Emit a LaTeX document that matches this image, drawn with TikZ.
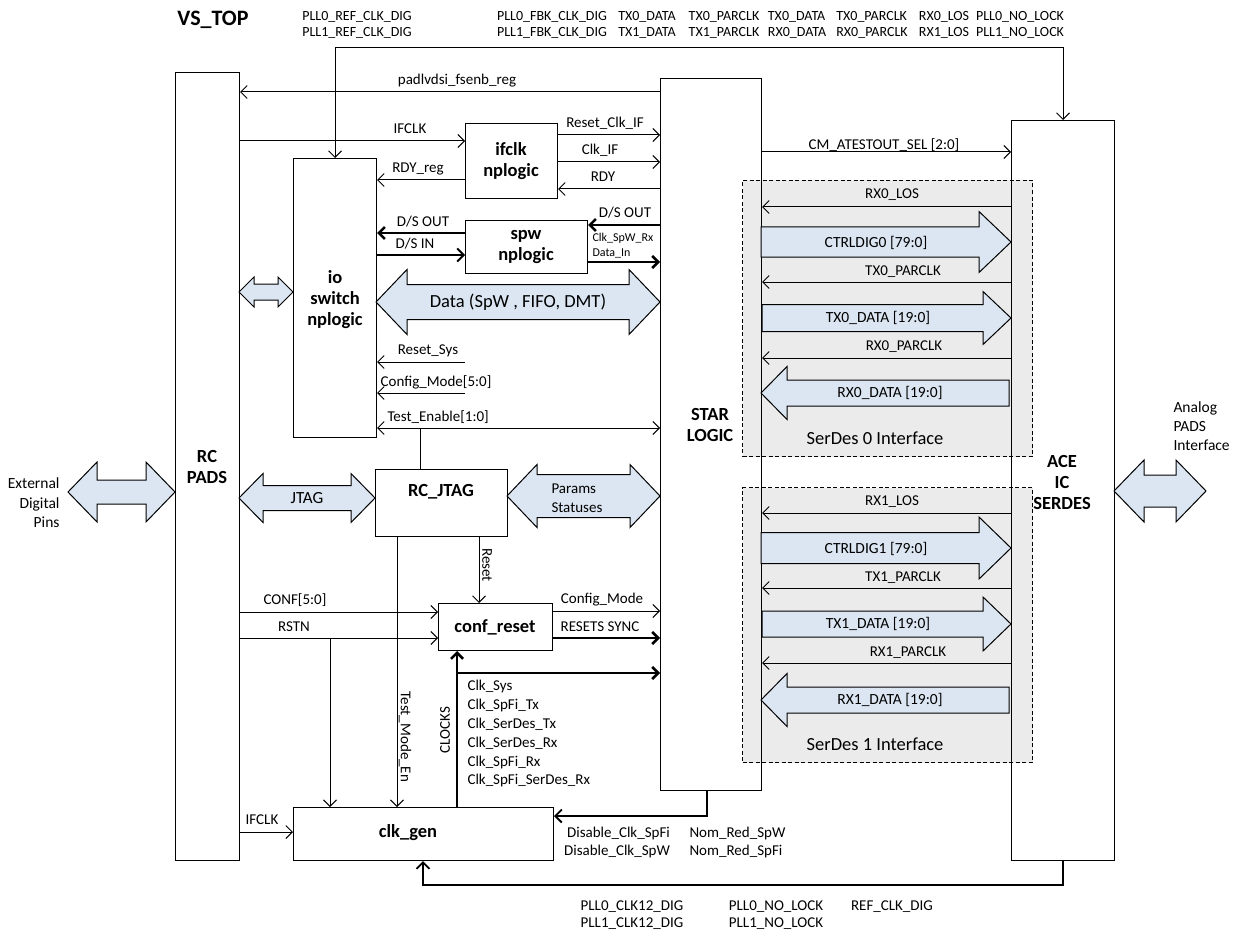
\documentclass[tikz,border=0pt]{standalone}
\usepackage{fontspec}
\setmainfont{Carlito}
\usetikzlibrary{arrows.meta}
\definecolor{blkfill}{HTML}{DCE6F2}
\definecolor{sdgray}{HTML}{EBEBEB}
\newcommand{\BlkR}[6]{\draw[blk] (#1,#3-#4) -- (#2-#6,#3-#4) -- (#2-#6,#3-#5) -- (#2,#3) -- (#2-#6,#3+#5) -- (#2-#6,#3+#4) -- (#1,#3+#4) -- cycle;}
\newcommand{\BlkL}[6]{\draw[blk] (#2,#3-#4) -- (#1+#6,#3-#4) -- (#1+#6,#3-#5) -- (#1,#3) -- (#1+#6,#3+#5) -- (#1+#6,#3+#4) -- (#2,#3+#4) -- cycle;}
\newcommand{\BlkD}[6]{\draw[blk] (#1,#3) -- (#1+#6,#3-#5) -- (#1+#6,#3-#4) -- (#2-#6,#3-#4) -- (#2-#6,#3-#5) -- (#2,#3) -- (#2-#6,#3+#5) -- (#2-#6,#3+#4) -- (#1+#6,#3+#4) -- (#1+#6,#3+#5) -- cycle;}
\begin{document}
\begin{tikzpicture}[x=1pt,y=-1pt,line width=1pt,
  lbl/.style={font=\fontsize{15}{18}\selectfont, inner sep=0},
  toplbl/.style={font=\fontsize{14}{16.5}\selectfont, inner sep=0, align=left},
  sml/.style={font=\fontsize{12}{14}\selectfont, inner sep=0},
  blktxt/.style={font=\fontsize{15.5}{19}\selectfont, inner sep=0},
  bold/.style={font=\bfseries\fontsize{18.5}{21}\selectfont, inner sep=0, align=center},
  box/.style={draw, line width=1pt, inner sep=0, anchor=north west},
  sdbox/.style={draw, dash pattern=on 4pt off 2.5pt, fill=sdgray, line width=1pt, inner sep=0, anchor=north west},
  arr/.style={-{Straight Barb[length=6.5pt,width=13pt]}, line width=1pt},
  arrb/.style={{Straight Barb[length=6.5pt,width=13pt]}-{Straight Barb[length=6.5pt,width=13pt]}, line width=1pt},
  tarr/.style={-{Straight Barb[length=6pt,width=12pt]}, line width=2.6pt},
  marr/.style={-{Straight Barb[length=6.5pt,width=13pt]}, line width=1.8pt},
  blk/.style={draw, fill=blkfill, line width=1pt, line join=miter},
]
\useasboundingbox (0,0) rectangle (1238,933);

% SerDes interface areas
\node[sdbox, minimum width=290pt, minimum height=276pt] (sd0) at (742,180) {};
\node[sdbox, minimum width=290pt, minimum height=275pt] (sd1) at (742,487) {};

% boxes
\node[box, minimum width=64pt, minimum height=788pt] (pads) at (175,72) {};
\node[box, minimum width=101pt, minimum height=712pt] (star) at (660,78) {};
\node[box, minimum width=103pt, minimum height=740pt] (ace) at (1011,120) {};
\node[box, minimum width=92pt, minimum height=75pt] (ifclk) at (465,123) {};
\node[box, minimum width=83pt, minimum height=279pt] (io) at (293,158) {};
\node[box, minimum width=122pt, minimum height=53pt] (spw) at (465,220) {};
\node[box, minimum width=132pt, minimum height=67pt] (jtag) at (375,469) {};
\node[box, minimum width=114pt, minimum height=47pt] (conf) at (438,603) {};
\node[box, minimum width=260pt, minimum height=53pt] (clk) at (293,807) {};

% box titles
\node[font=\bfseries\fontsize{22}{24}\selectfont, inner sep=0] (vstop) at (213,20) {VS\_TOP};
\node[bold] (padsT) at (207,467) {RC\\PADS};
\node[bold] (starT) at (710,425) {STAR\\LOGIC};
\node[bold] (aceT) at (1062,482) {ACE\\IC\\SERDES};
\node[bold] (ifclkT) at (511,161) {ifclk\\nplogic};
\node[bold] (ioT) at (335,300) {io\\switch\\nplogic};
\node[bold] (spwT) at (526,247) {spw\\nplogic};
\node[bold] (jtagT) at (441,492) {RC\_JTAG};
\node[bold] (confT) at (495,627) {conf\_reset};
\node[bold] (clkT) at (408,833) {clk\_gen};

% top signal labels
\node[toplbl] (t1) at (357,25) {PLL0\_REF\_CLK\_DIG\\PLL1\_REF\_CLK\_DIG};
\node[toplbl] (t2) at (552,25) {PLL0\_FBK\_CLK\_DIG\\PLL1\_FBK\_CLK\_DIG};
\node[toplbl] (t3) at (647,25) {TX0\_DATA\\TX1\_DATA};
\node[toplbl] (t4) at (724,25) {TX0\_PARCLK\\TX1\_PARCLK};
\node[toplbl] (t5) at (797,25) {TX0\_DATA\\RX0\_DATA};
\node[toplbl] (t6) at (872,25) {TX0\_PARCLK\\RX0\_PARCLK};
\node[toplbl] (t7) at (944,25) {RX0\_LOS\\RX1\_LOS};
\node[toplbl] (t8) at (1020,25) {PLL0\_NO\_LOCK\\PLL1\_NO\_LOCK};
\draw[arrb] (io.north) -- (io.north |- 0,48) -- (ace.north |- 0,48) -- (ace.north);

% padlvdsi
\draw[arr] (star.west |- 0,92) -- (pads.east |- 0,92);
\node[lbl] (padl) at (457,81) {padlvdsi\_fsenb\_reg};

% ifclk nplogic signals
\draw[arr] (pads.east |- 0,141) -- (ifclk.west |- 0,141);
\node[lbl] (ifclkl) at (410,129) {IFCLK};
\draw[arr] (ifclk.east |- 0,135) -- (star.west |- 0,135);
\node[lbl] (rcil) at (605,123) {Reset\_Clk\_IF};
\draw[arr] (ifclk.east |- 0,162) -- (star.west |- 0,162);
\node[lbl] (clkifl) at (600,150) {Clk\_IF};
\draw[arr] (star.west |- 0,189) -- (ifclk.east |- 0,189);
\node[lbl] (rdyl) at (603,177) {RDY};
\draw[arr] (ifclk.west |- 0,180) -- (io.east |- 0,180);
\node[lbl] (rdyrl) at (418,169) {RDY\_reg};

% spw nplogic signals
\draw[tarr] (star.west |- 0,225) -- (spw.east |- 0,225);
\node[lbl] (dso1) at (625,213) {D/S OUT};
\draw[tarr] (spw.west |- 0,233) -- (io.east |- 0,233);
\node[lbl] (dso2) at (423,222) {D/S OUT};
\draw[marr] (io.east |- 0,255) -- (spw.west |- 0,255);
\node[lbl] (dsin) at (415,244) {D/S IN};
\draw[tarr] (spw.east |- 0,262) -- (star.west |- 0,262);
\node[sml, anchor=west] (cswl) at (592,238) {Clk\_SpW\_Rx};
\node[sml, anchor=west] (dinl) at (592,253) {Data\_In};

% data bus
\BlkD{376}{660}{302}{17.5}{32.5}{31}
\node[font=\fontsize{18.5}{21}\selectfont, inner sep=0] (datal) at (518,302) {Data (SpW , FIFO, DMT)};
\BlkD{239}{293}{292}{8}{15}{15}

% io inputs
\coordinate (rsS) at (465,362);
\draw[arr] (rsS) -- (io.east |- rsS);
\node[lbl] (rsl) at (428,351) {Reset\_Sys};
\coordinate (cmS) at (465,393);
\draw[arr] (cmS) -- (io.east |- cmS);
\node[lbl] (cml) at (436,382) {Config\_Mode[5:0]};
\draw[arrb] (io.east |- 0,428) -- (star.west |- 0,428);
\node[lbl, anchor=west] (tel) at (387,417) {Test\_Enable[1:0]};
\draw (jtag.north -| 420,0) -- (420,428);

% JTAG area
\BlkD{239}{375}{498}{12.5}{24.5}{24}
\node[blktxt, font=\fontsize{17}{19}\selectfont] (jtagl) at (307,498) {JTAG};
\BlkD{68}{175}{492}{12}{30}{29}
\node[lbl, align=right, anchor=east, font=\fontsize{15.5}{19.5}\selectfont] (extl) at (60,503) {External\\Digital\\Pins};
\BlkD{507}{660}{496}{21.5}{31.5}{30}
\node[blktxt, align=left, anchor=west, font=\fontsize{15}{19}\selectfont] (parl) at (551,498) {Params\\Statuses};
\BlkD{1114}{1206}{491}{16}{31}{30}
\node[lbl, align=left, anchor=west, font=\fontsize{15.5}{19}\selectfont] (anl) at (1173,426) {Analog\\PADS\\Interface};

% reset and test mode
\draw[arr] (jtag.south -| 479,0) -- (conf.north -| 479,0);
\node[lbl, rotate=-90] (resetl) at (487,565) {Reset};
\draw[arr] (jtag.south -| 397,0) -- (clk.north -| 397,0);
\node[lbl, rotate=-90] (tmel) at (405,737) {Test\_Mode\_En};

% conf_reset
\draw[arr] (pads.east |- 0,612) -- (conf.west |- 0,612);
\node[lbl] (confl) at (295,600) {CONF[5:0]};
\draw[arr] (pads.east |- 0,638) -- (conf.west |- 0,638);
\node[lbl] (rstnl) at (294,627) {RSTN};
\draw[arr] (330,638) -- (clk.north -| 330,0);
\draw[arr] (conf.east |- 0,611) -- (star.west |- 0,611);
\node[lbl] (cmodel) at (602,600) {Config\_Mode};
\draw[tarr] (conf.east |- 0,638) -- (star.west |- 0,638);
\node[lbl] (rsyncl) at (600,627) {RESETS SYNC};

% clocks
\draw[tarr] (clk.north -| 457,0) -- (conf.south -| 457,0);
\draw[tarr] (457,673) -- (star.west |- 0,673);
\node[lbl, rotate=90] (clocksl) at (445,730) {CLOCKS};
\node[lbl, align=left, anchor=north west, font=\fontsize{15}{18.8}\selectfont] (clkl) at (467,680) {Clk\_Sys\\Clk\_SpFi\_Tx\\Clk\_SerDes\_Tx\\Clk\_SerDes\_Rx\\Clk\_SpFi\_Rx\\Clk\_SpFi\_SerDes\_Rx};

% clk_gen inputs
\draw[arr] (pads.east |- 0,832) -- (clk.west |- 0,832);
\node[lbl] (ifclk2l) at (262,820) {IFCLK};
\draw[marr] (star.south -| 707,0) |- (clk.east |- 0,816);
\node[lbl, align=right, font=\fontsize{15}{18}\selectfont] (disl) at (617,842) {Disable\_Clk\_SpFi\\Disable\_Clk\_SpW};
\node[lbl, align=left, anchor=west, font=\fontsize{15}{18}\selectfont] (noml) at (689,842) {Nom\_Red\_SpW\\Nom\_Red\_SpFi};
\draw[marr] (ace.south) |- (423,885) -- (clk.south -| 423,0);
\node[lbl, align=left, font=\fontsize{15}{17}\selectfont] (b1) at (632,915) {PLL0\_CLK12\_DIG\\PLL1\_CLK12\_DIG};
\node[lbl, align=left, font=\fontsize{15}{17}\selectfont] (b2) at (776,915) {PLL0\_NO\_LOCK\\PLL1\_NO\_LOCK};
\node[lbl] (b3) at (892,907) {REF\_CLK\_DIG};

% star to ace
\draw[arr] (star.east |- 0,152) -- (ace.west |- 0,152);
\node[lbl] (cml2) at (884,145) {CM\_ATESTOUT\_SEL [2:0]};

% SerDes 0
\draw[arr] (ace.west |- 0,207) -- (star.east |- 0,207);
\node[lbl] (rx0los) at (892,195) {RX0\_LOS};
\BlkR{761}{1011}{242}{15}{30.5}{32}
\node[blktxt] (ctrl0) at (876,243) {CTRLDIG0 [79:0]};
\draw[arr] (ace.west |- 0,282) -- (star.east |- 0,282);
\node[lbl] (tx0p) at (903,272) {TX0\_PARCLK};
\BlkR{762}{1011}{318}{13.5}{26.5}{28}
\node[blktxt] (tx0d) at (878,318) {TX0\_DATA [19:0]};
\draw[arr] (ace.west |- 0,358) -- (star.east |- 0,358);
\node[lbl] (rx0p) at (904,347) {RX0\_PARCLK};
\BlkL{761}{1009}{393}{13}{26.5}{26}
\node[blktxt] (rx0d) at (890,393) {RX0\_DATA [19:0]};
\node[font=\fontsize{18.5}{21}\selectfont, inner sep=0] (sd0l) at (875,438) {SerDes 0 Interface};

% SerDes 1
\draw[arr] (ace.west |- 0,513) -- (star.east |- 0,513);
\node[lbl] (rx1los) at (892,502) {RX1\_LOS};
\BlkR{761}{1011}{548}{15.5}{31}{32}
\node[blktxt] (ctrl1) at (876,549) {CTRLDIG1 [79:0]};
\draw[arr] (ace.west |- 0,588) -- (star.east |- 0,588);
\node[lbl] (tx1p) at (903,578) {TX1\_PARCLK};
\BlkR{762}{1011}{624}{13}{27}{28}
\node[blktxt] (tx1d) at (878,624) {TX1\_DATA [19:0]};
\draw[arr] (ace.west |- 0,663) -- (star.east |- 0,663);
\node[lbl] (rx1p) at (908,653) {RX1\_PARCLK};
\BlkL{761}{1009}{700}{13}{26.5}{26}
\node[blktxt] (rx1d) at (890,700) {RX1\_DATA [19:0]};
\node[font=\fontsize{18.5}{21}\selectfont, inner sep=0] (sd1l) at (875,744) {SerDes 1 Interface};
\end{tikzpicture}
\end{document}
